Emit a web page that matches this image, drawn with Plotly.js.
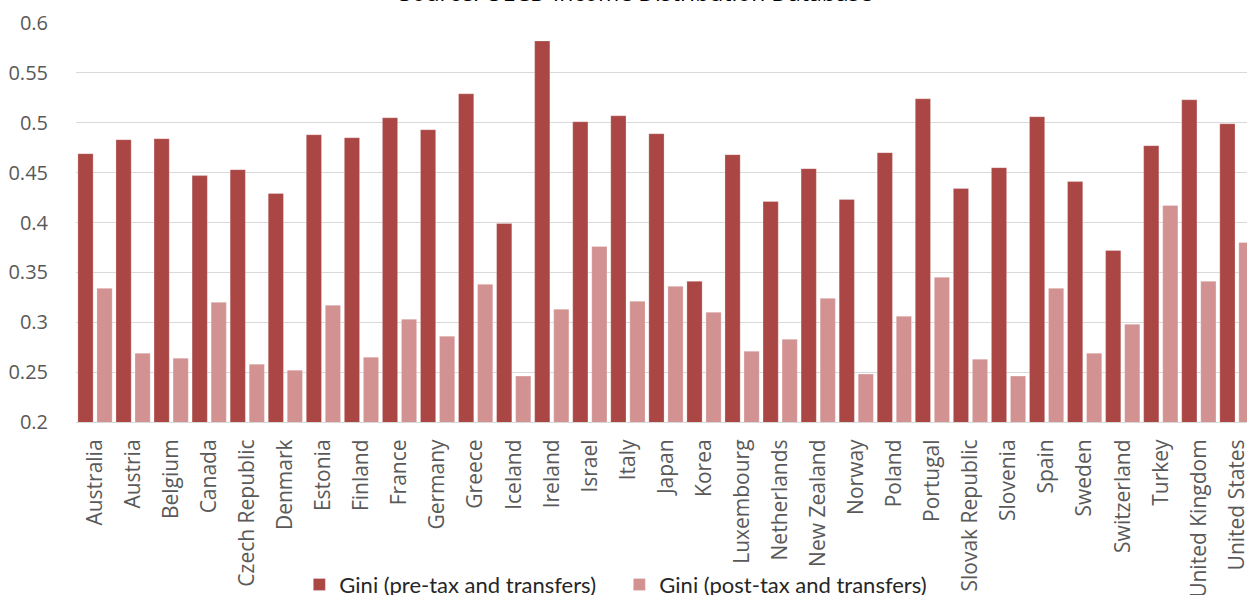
<!DOCTYPE html>
<html>
<head>
<meta charset="utf-8">
<script src="https://cdn.plot.ly/plotly-3.0.1.min.js"></script>
<style>
  html, body { margin: 0; padding: 0; background: #ffffff; }
  #chart { width: 1247px; height: 595px; }
</style>
</head>
<body>
<div id="chart"></div>
<script>
const countries = ["Australia","Austria","Belgium","Canada","Czech Republic","Denmark","Estonia","Finland","France","Germany","Greece","Iceland","Ireland","Israel","Italy","Japan","Korea","Luxembourg","Netherlands","New Zealand","Norway","Poland","Portugal","Slovak Republic","Slovenia","Spain","Sweden","Switzerland","Turkey","United Kingdom","United States"];

const giniPreTax = [0.469,0.483,0.484,0.447,0.453,0.429,0.488,0.485,0.505,0.493,0.529,0.399,0.582,0.501,0.507,0.489,0.341,0.468,0.421,0.454,0.423,0.470,0.524,0.434,0.455,0.506,0.441,0.372,0.477,0.523,0.499];

const giniPostTax = [0.334,0.269,0.264,0.320,0.258,0.252,0.317,0.265,0.303,0.286,0.338,0.246,0.313,0.376,0.321,0.336,0.310,0.271,0.283,0.324,0.248,0.306,0.345,0.263,0.246,0.334,0.269,0.298,0.417,0.341,0.380];

const seriesNames = ["Gini (pre-tax and transfers)", "Gini (post-tax and transfers)"];
const yTicks = [0.2,0.25,0.3,0.35,0.4,0.45,0.5,0.55,0.6];
const yTickText = ["0.2","0.25","0.3","0.35","0.4","0.45","0.5","0.55","0.6"];

const traces = [
  {
    type: "bar",
    name: seriesNames[0],
    x: countries,
    y: giniPreTax,
    marker: { color: "#AA4644", line: { color: "rgba(255,255,255,0.5)", width: 0.5 } },
    hoverinfo: "x+y"
  },
  {
    type: "bar",
    name: seriesNames[1],
    x: countries,
    y: giniPostTax,
    marker: { color: "#D39292", line: { color: "rgba(255,255,255,0.5)", width: 0.5 } },
    hoverinfo: "x+y"
  }
];

const layout = {
  width: 1247,
  height: 595,
  margin: { l: 76.4, r: 0, t: 23.3, b: 173.3, pad: 0, autoexpand: false },
  paper_bgcolor: "#ffffff",
  plot_bgcolor: "#ffffff",
  barmode: "group",
  bargap: 0,
  bargroupgap: 0.2,
  font: { family: "Open Sans, sans-serif", size: 20, color: "#595959" },
  title: {
    text: "Source: OECD Income Distribution Database",
    font: { family: "Open Sans, sans-serif", size: 23, color: "#000000" },
    x: 0.478,
    xref: "paper",
    xanchor: "center",
    y: 0.999,
    yref: "container",
    yanchor: "bottom"
  },
  xaxis: {
    type: "category",
    range: [-0.5, 30.265],
    tickangle: -90,
    ticks: "outside",
    ticklen: 8,
    tickcolor: "rgba(0,0,0,0)",
    showline: true,
    linecolor: "#d9d9d9",
    linewidth: 1,
    showgrid: false,
    automargin: false,
    tickfont: { family: "Open Sans, sans-serif", size: 21, color: "#595959" },
    fixedrange: true
  },
  yaxis: {
    range: [0.2, 0.6],
    tickvals: yTicks,
    ticktext: yTickText,
    showgrid: true,
    gridcolor: "#d9d9d9",
    gridwidth: 1,
    zeroline: false,
    showline: false,
    automargin: false,
    ticks: "outside",
    ticklen: 23,
    tickcolor: "rgba(0,0,0,0)",
    tickfont: { family: "Open Sans, sans-serif", size: 20, color: "#595959" },
    fixedrange: true
  },
  showlegend: true,
  legend: {
    orientation: "h",
    x: 0.464,
    xanchor: "center",
    y: -0.355,
    yanchor: "top",
    font: { family: "Lato, sans-serif", size: 22, color: "#262626" },
    itemwidth: 30,
    entrywidth: 275,
    bgcolor: "rgba(0,0,0,0)",
    traceorder: "normal"
  }
};

Plotly.newPlot("chart", traces, layout, { displayModeBar: false, staticPlot: true });
</script>
</body>
</html>
